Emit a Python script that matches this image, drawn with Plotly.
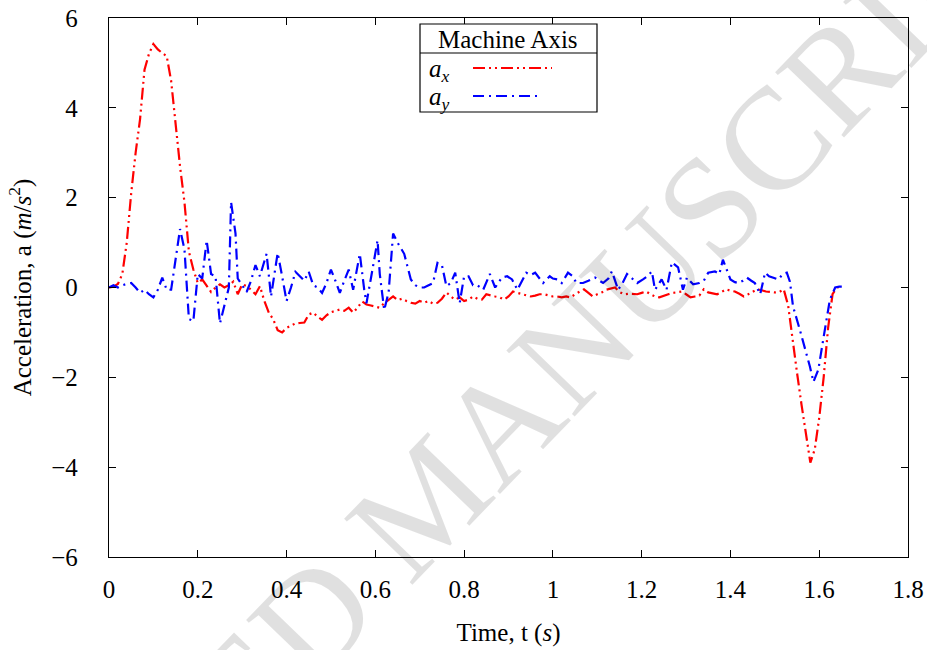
import plotly.graph_objects as go

# ---------------- data ----------------
t_x = [0.00,0.01,0.02,0.03,0.04,0.05,0.06,0.07,0.08,0.09,0.10,0.11,0.12,0.13,0.14,0.15,0.16,0.17,0.18,0.19,
       0.20,0.21,0.22,0.23,0.24,0.25,0.26,0.27,0.28,0.29,0.30,0.31,0.32,0.33,0.34,0.35,0.36,0.37,0.38,0.39,
       0.40,0.41,0.42,0.43,0.44,0.45,0.46,0.47,0.48,0.49,0.50,0.51,0.52,0.53,0.54,0.55,0.56,0.57,0.58,0.59,
       0.60,0.61,0.62,0.63,0.64,0.65,0.66,0.67,0.68,0.69,0.70,0.71,0.72,0.73,0.74,0.75,0.76,0.77,0.78,0.79,
       0.80,0.81,0.82,0.83,0.84,0.85,0.86,0.87,0.88,0.89,0.90,0.91,0.92,0.93,0.94,0.95,0.96,0.97,0.98,0.99,
       1.00,1.01,1.02,1.03,1.04,1.05,1.06,1.07,1.08,1.09,1.10,1.11,1.12,1.13,1.14,1.15,1.16,1.17,1.18,1.19,
       1.20,1.21,1.22,1.23,1.24,1.25,1.26,1.27,1.28,1.29,1.30,1.31,1.32,1.33,1.34,1.35,1.36,1.37,1.38,1.39,
       1.40,1.41,1.42,1.43,1.44,1.45,1.46,1.47,1.48,1.49,1.50,1.51,1.52,1.53,1.54,1.55,1.56,1.57,1.58,1.59,
       1.60,1.61,1.62,1.63,1.64,1.65]
a_x = [0.0,0.02,0.08,0.3,1.0,2.1,3.0,3.75,4.85,5.2,5.42,5.3,5.22,5.15,4.6,3.6,2.7,1.9,0.8,0.4,
       0.1,0.18,0.05,-0.1,0.0,0.07,0.0,0.05,0.13,-0.15,0.07,0.03,-0.05,-0.15,0.03,-0.3,-0.56,-0.71,-0.95,-1.0,
       -0.9,-0.85,-0.8,-0.79,-0.78,-0.6,-0.56,-0.65,-0.72,-0.62,-0.55,-0.52,-0.49,-0.52,-0.45,-0.56,-0.45,-0.31,-0.38,-0.4,
       -0.42,-0.45,-0.35,-0.28,-0.2,-0.28,-0.25,-0.3,-0.34,-0.36,-0.3,-0.34,-0.3,-0.36,-0.34,-0.25,-0.11,-0.2,-0.27,-0.22,
       -0.3,-0.27,-0.2,-0.25,-0.27,-0.15,-0.18,-0.2,-0.22,-0.27,-0.2,-0.09,-0.12,-0.15,-0.18,-0.2,-0.18,-0.15,-0.15,-0.18,
       -0.2,-0.2,-0.22,-0.2,-0.22,-0.15,-0.1,-0.04,-0.12,-0.2,-0.15,-0.11,-0.05,-0.02,0.0,-0.1,-0.15,-0.14,-0.15,-0.15,
       -0.12,-0.09,-0.15,-0.2,-0.22,-0.18,-0.15,-0.12,-0.1,-0.09,-0.15,-0.22,-0.2,-0.18,-0.04,-0.11,-0.13,-0.15,-0.1,-0.04,
       -0.07,-0.09,-0.14,-0.2,-0.15,-0.1,-0.04,-0.06,-0.09,-0.1,-0.11,-0.1,-0.04,-0.4,-1.2,-1.9,-2.6,-3.3,-3.9,-3.6,
       -2.9,-2.0,-0.9,-0.15,0.0,0.0]

t_y = [0.00,0.01,0.02,0.03,0.04,0.05,0.06,0.07,0.08,0.09,0.10,0.11,0.12,0.13,0.14,0.15,0.16,0.17,0.175,0.18,
       0.19,0.20,0.21,0.22,0.23,0.24,0.25,0.26,0.27,0.275,0.285,0.29,0.30,0.31,0.32,0.33,0.34,0.355,0.365,0.38,
       0.39,0.40,0.41,0.42,0.43,0.44,0.45,0.46,0.47,0.48,0.49,0.50,0.51,0.52,0.53,0.54,0.55,0.56,0.565,0.575,
       0.58,0.59,0.60,0.605,0.61,0.62,0.63,0.635,0.64,0.65,0.665,0.68,0.69,0.70,0.71,0.72,0.73,0.74,0.75,0.76,
       0.77,0.78,0.79,0.80,0.81,0.82,0.83,0.843,0.858,0.87,0.885,0.897,0.908,0.92,0.93,0.94,0.95,0.96,0.97,0.978,
       0.993,1.00,1.011,1.02,1.034,1.045,1.053,1.068,1.08,1.095,1.105,1.113,1.125,1.133,1.147,1.157,1.167,1.178,1.19,1.203,
       1.213,1.223,1.23,1.245,1.256,1.268,1.282,1.293,1.302,1.316,1.33,1.34,1.35,1.365,1.375,1.383,1.39,1.40,1.41,1.418,
       1.428,1.437,1.447,1.455,1.467,1.478,1.487,1.496,1.508,1.518,1.527,1.534,1.541,1.556,1.567,1.579,1.587,1.598,1.61,1.624,
       1.636,1.645,1.654]
a_y = [0.0,0.05,0.0,0.05,0.08,0.1,0.0,-0.12,-0.05,-0.15,-0.22,-0.05,0.22,-0.05,-0.05,0.6,1.3,0.85,0.0,-0.7,
       -0.75,0.3,0.2,1.05,0.3,0.25,-0.8,-0.4,0.0,1.9,1.2,0.2,0.05,-0.1,0.15,0.5,0.25,0.75,-0.2,0.77,
       0.25,-0.3,0.0,0.35,0.25,0.15,0.35,0.05,0.0,-0.12,0.1,0.4,0.15,-0.12,0.15,0.4,-0.05,0.55,0.75,-0.05,
       -0.35,0.2,0.75,1.05,0.3,-0.5,-0.1,0.55,1.2,1.0,0.75,0.18,0.05,0.0,0.0,0.05,0.1,0.55,0.5,0.03,
       0.1,0.33,-0.35,0.25,0.25,0.05,0.05,-0.05,0.3,0.0,0.22,0.25,0.18,-0.05,0.15,0.33,0.28,0.33,0.2,0.1,
       0.25,0.2,0.18,0.1,0.33,0.25,0.1,0.1,0.15,0.22,0.15,0.1,0.2,0.36,-0.05,0.1,0.3,0.2,0.1,0.18,
       0.25,0.36,-0.05,0.18,-0.05,0.56,0.45,-0.05,0.22,0.07,0.1,0.15,0.33,0.36,0.3,0.62,0.45,0.18,0.12,0.1,
       0.15,0.22,0.15,0.1,-0.15,0.33,0.25,0.22,0.18,0.3,0.33,0.13,-0.42,-0.93,-1.3,-1.76,-2.1,-1.83,-1.1,-0.27,
       0.0,0.02,0.02]

x_ticks = [0, 0.2, 0.4, 0.6, 0.8, 1, 1.2, 1.4, 1.6, 1.8]
x_tick_labels = ["0", "0.2", "0.4", "0.6", "0.8", "1", "1.2", "1.4", "1.6", "1.8"]
y_ticks = [-6, -4, -2, 0, 2, 4, 6]
y_tick_labels = ["\u22126", "\u22124", "\u22122", "0", "2", "4", "6"]

series_names = ["<i>a<sub>x</sub></i>", "<i>a<sub>y</sub></i>"]
series_colors = ["#ff0000", "#0000ff"]
series_dash = ["12px,4px,2px,4px,2px,4px", "11px,5px,2px,5px"]

FONT = "Liberation Serif, Times New Roman, serif"
FS = 25

fig = go.Figure()
fig.add_trace(go.Scatter(x=t_x, y=a_x, mode="lines", name=series_names[0],
                         line=dict(color=series_colors[0], width=2.2, dash=series_dash[0]),
                         showlegend=False))
fig.add_trace(go.Scatter(x=t_y, y=a_y, mode="lines", name=series_names[1],
                         line=dict(color=series_colors[1], width=2.2, dash=series_dash[1]),
                         showlegend=False))

axis_common = dict(showgrid=False, zeroline=False, showline=True, linecolor="black", linewidth=1.3,
                   mirror="ticks", ticks="inside", ticklen=7, tickwidth=1, tickcolor="black",
                   automargin=False,
                   tickfont=dict(family=FONT, size=FS, color="black"))

fig.update_xaxes(range=[0, 1.8], tickvals=x_ticks, ticktext=x_tick_labels,
                 title=dict(text="Time, t (<i>s</i>)", font=dict(family=FONT, size=FS, color="black"), standoff=21),
                 ticklabelstandoff=10, **axis_common)
fig.update_yaxes(range=[-6, 6], tickvals=y_ticks, ticktext=y_tick_labels,
                 title=dict(text="Acceleration, a (<i>m</i>/<i>s</i><sup>2</sup>)",
                            font=dict(family=FONT, size=FS, color="black"), standoff=12),
                 ticklabelstandoff=25, **axis_common)

# watermark
fig.add_annotation(text="ACCEPTED MANUSCRIPT", xref="paper", yref="paper",
                   x=(426 - 109) / 799, y=(557 - 500) / 539, xanchor="center", yanchor="middle",
                   showarrow=False, textangle=-46,
                   font=dict(family=FONT, size=145, color="rgba(0,0,0,0.12)"))

# custom legend box (title + entries with text left, line sample right)
def px_x(p):
    return (p - 109) / 799

def px_y(p):
    return (557 - p) / 539

fig.add_shape(type="rect", xref="paper", yref="paper", x0=px_x(420), x1=px_x(597), y0=px_y(112), y1=px_y(24),
              line=dict(color="black", width=1.2), fillcolor="white", layer="above")
fig.add_shape(type="line", xref="paper", yref="paper", x0=px_x(420), x1=px_x(597), y0=px_y(53), y1=px_y(53),
              line=dict(color="black", width=1.2), layer="above")
fig.add_annotation(text="Machine Axis", xref="paper", yref="paper", x=px_x(508), y=px_y(39),
                   xanchor="center", yanchor="middle", showarrow=False,
                   font=dict(family=FONT, size=FS, color="black"))
leg_y = [70, 98]
for i in range(2):
    fig.add_annotation(text=series_names[i], xref="paper", yref="paper", x=px_x(427), y=px_y(leg_y[i]),
                       xanchor="left", yanchor="middle", showarrow=False,
                       font=dict(family=FONT, size=FS, color="black"))
    fig.add_shape(type="line", xref="paper", yref="paper", x0=px_x(473), x1=px_x(552 if i == 0 else 537),
                  y0=px_y(leg_y[i] - 2), y1=px_y(leg_y[i] - 2),
                  line=dict(color=series_colors[i], width=2.2, dash=series_dash[i]), layer="above")

fig.update_layout(width=927, height=650, margin=dict(l=109, r=19, t=18, b=93),
                  plot_bgcolor="white", paper_bgcolor="white", showlegend=False,
                  font=dict(family=FONT, size=FS, color="black"))

fig.write_html("out.html", config={"displayModeBar": False},
               post_script="document.body.style.margin='0px';")
